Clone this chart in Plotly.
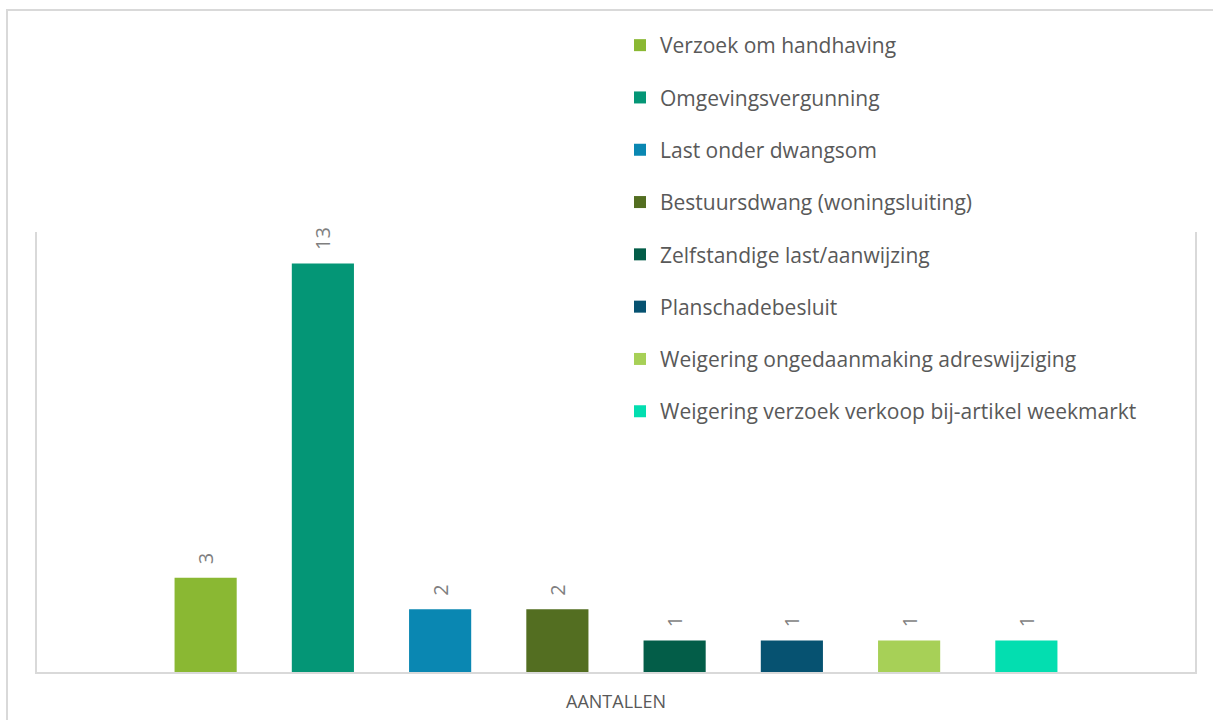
import plotly.graph_objects as go

category = ["AANTALLEN"]
series_names = [
    "Verzoek om handhaving",
    "Omgevingsvergunning",
    "Last onder dwangsom",
    "Bestuursdwang (woningsluiting)",
    "Zelfstandige last/aanwijzing",
    "Planschadebesluit",
    "Weigering ongedaanmaking adreswijziging",
    "Weigering verzoek verkoop bij-artikel weekmarkt",
]
series_values = [3, 13, 2, 2, 1, 1, 1, 1]
series_colors = ["#8AB833", "#049676", "#0A87B2", "#536E21",
                 "#035D48", "#065271", "#A7D057", "#03DEB0"]

FONT = "Open Sans"
fig = go.Figure()
for i, (name, val, col) in enumerate(zip(series_names, series_values, series_colors)):
    fig.add_trace(go.Bar(
        x=category, y=[val], name=name, marker=dict(color=col, line=dict(width=0)),
        text=["\u00a0\u00a0" + str(val)], textposition="outside", textangle=-90,
        textfont=dict(family=FONT, size=20, color="#7F7F7F"),
        cliponaxis=False, legendgroup="g%d" % i,
    ))

W, H = 1213, 720
L, R, T, B = 37, 18, 232, 48
pw, ph = W - L - R, H - T - B

fig.update_layout(
    width=W, height=H,
    margin=dict(l=L, r=R, t=T, b=B, autoexpand=False),
    paper_bgcolor="white", plot_bgcolor="white",
    barmode="group", bargap=0.19, bargroupgap=0.47,
    font=dict(family=FONT, color="#595959"),
    showlegend=True,
    legend=dict(
        x=(620 - L) / pw, xanchor="left",
        y=(H - B - 25) / ph, yanchor="top",
        font=dict(family=FONT, size=21, color="#595959"),
        tracegroupgap=22, bgcolor="rgba(0,0,0,0)",
        maxheight=700,
        itemclick=False, itemdoubleclick=False,
    ),
    xaxis=dict(
        showline=True, linecolor="#D9D9D9", linewidth=2,
        showgrid=False, ticks="", ticklabelstandoff=12,
        tickfont=dict(family=FONT, size=18, color="#595959"),
        fixedrange=True, automargin=False,
    ),
    yaxis=dict(
        range=[0, 14], showline=True, mirror=True, linecolor="#D9D9D9", linewidth=2,
        showgrid=False, zeroline=False, showticklabels=False, ticks="",
        fixedrange=True, automargin=False,
    ),
    shapes=[dict(
        type="rect", xref="paper", yref="paper",
        x0=(7 - L) / pw, x1=(W + 10 - L) / pw,
        y0=-(B + 10) / ph, y1=(H - B - 10) / ph,
        line=dict(color="#D9D9D9", width=2), fillcolor="rgba(0,0,0,0)", layer="below",
    )],
)

fig.write_html("out.html")
